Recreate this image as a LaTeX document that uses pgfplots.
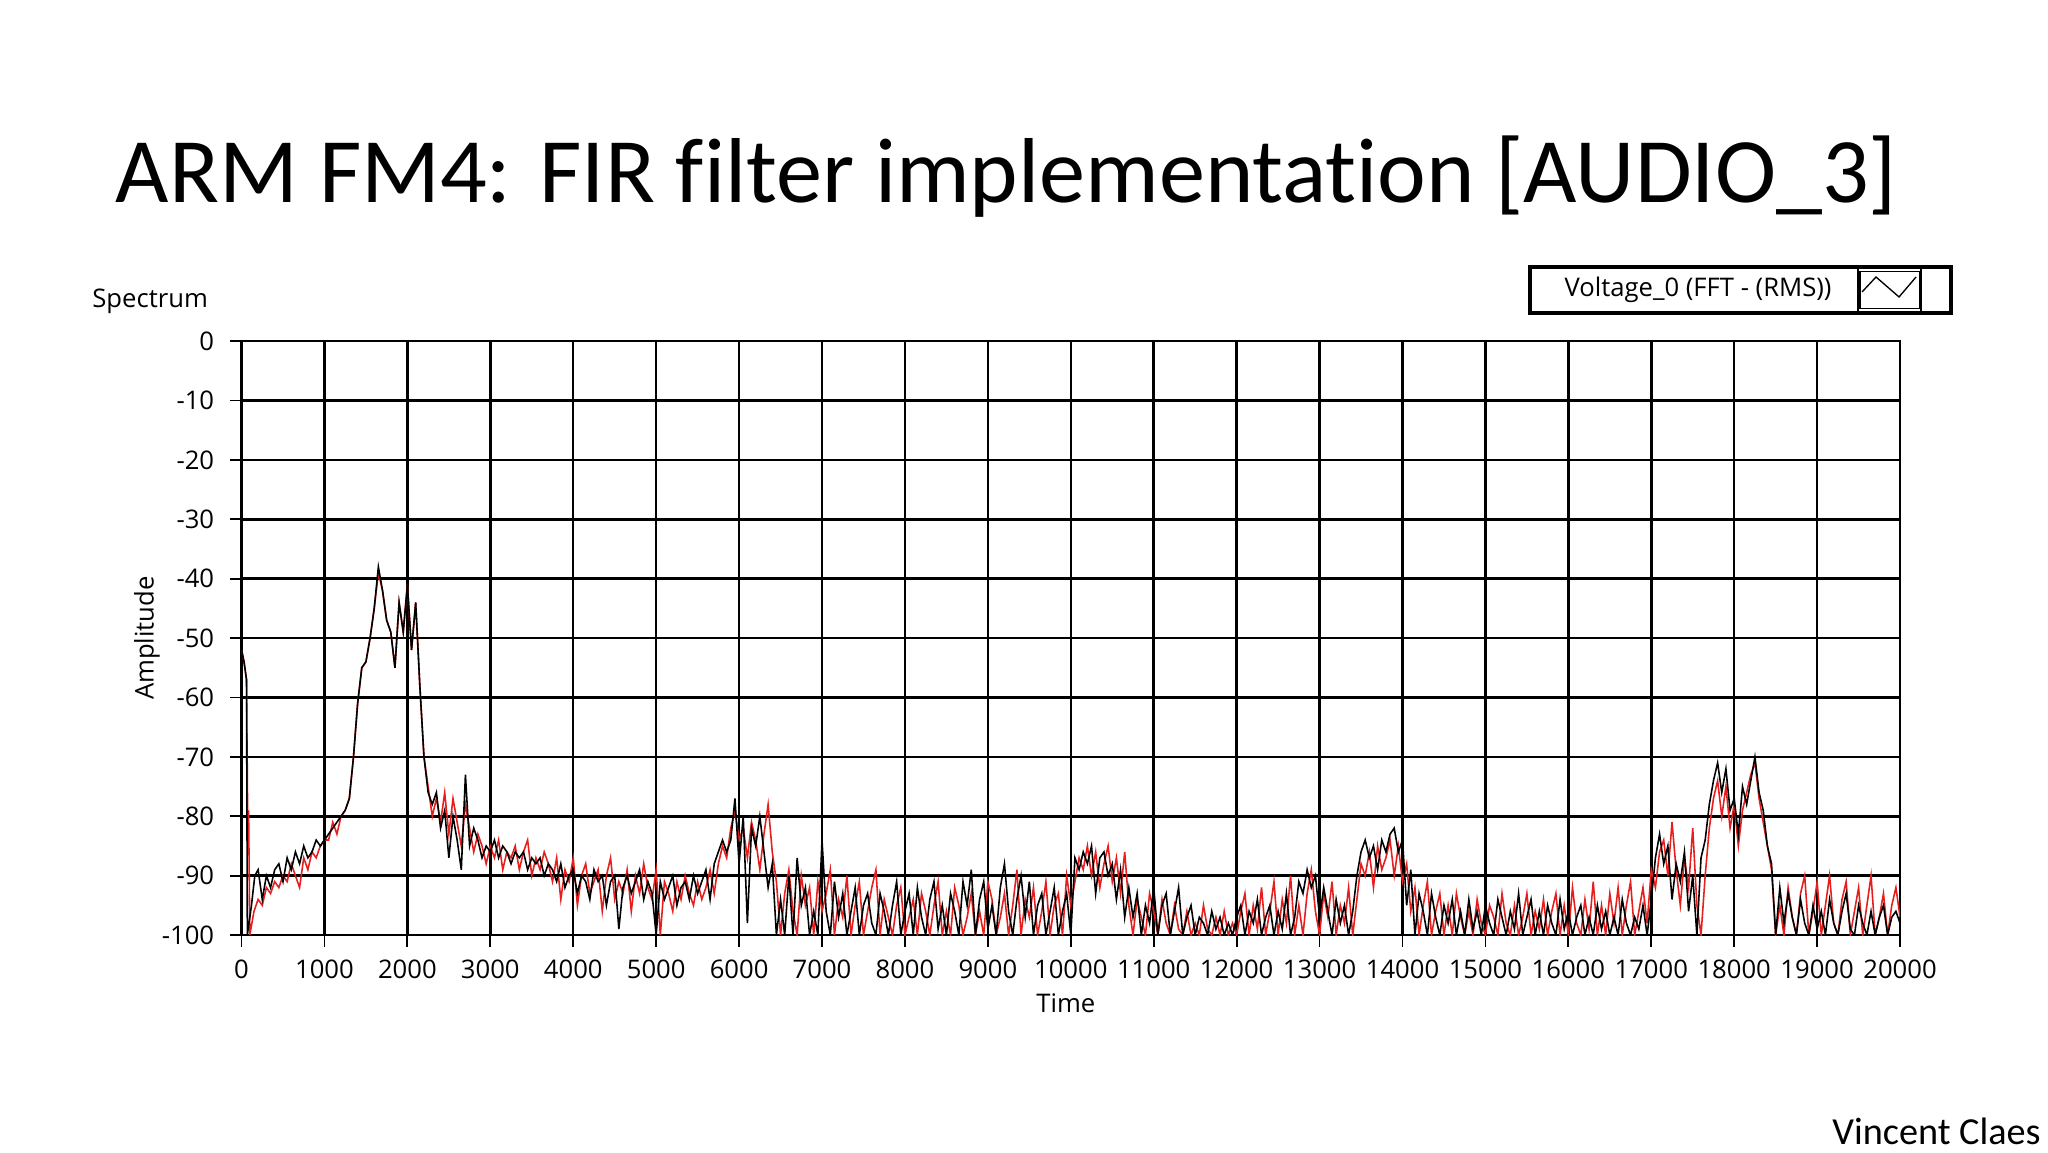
\documentclass[border=0pt]{standalone}
\usepackage{fontspec}
\usepackage{pgfplots}
\pgfplotsset{compat=1.18}
\setmainfont{Carlito}[Ligatures=NoCommon]
\newfontfamily\ui{Open Sans}
\definecolor{lvred}{RGB}{230,30,30}

\begin{document}
\begin{tikzpicture}
\fill[white] (0,0) rectangle (16,9);
% slide title and footer
\node[anchor=base west, inner sep=0] at (0.898,7.42) {\fontsize{20.5}{25}\selectfont ARM FM4: FIR filter implementation [AUDIO\_3]};
\node[anchor=base east, inner sep=0] at (15.95,0.06) {\fontsize{8.5}{10}\selectfont Vincent Claes};
\node[anchor=base west, inner sep=0] at (0.715,6.60) {\ui\fontsize{5.7}{7}\selectfont Spectrum};

% legend box
\draw[line width=0.8pt] (11.953,6.555) rectangle (15.242,6.914);
\draw[line width=0.35pt] (14.516,6.555) -- (14.516,6.914);
\draw[line width=0.35pt] (14.53,6.59) rectangle (15.0,6.88);
\draw[line width=0.35pt] (15.008,6.555) -- (15.008,6.914);
\draw[line width=0.3pt] (14.547,6.719) -- (14.656,6.836) -- (14.836,6.680) -- (14.969,6.836);
\node[anchor=center, inner sep=0] at (13.266,6.734) {\ui\fontsize{5.7}{7}\selectfont Voltage\_0 (FFT - (RMS))};

\begin{axis}[
  at={(1.887cm,1.695cm)}, anchor=south west,
  scale only axis, width=12.957cm, height=4.64cm,
  xmin=0, xmax=20000, ymin=-100, ymax=0,
  scaled x ticks=false, scaled y ticks=false,
  xtick={0,1000,...,20000},
  xticklabels={0,1000,2000,3000,4000,5000,6000,7000,8000,9000,10000,11000,12000,13000,14000,15000,16000,17000,18000,19000,20000},
  ytick={-100,-90,...,0},
  yticklabels={-100,-90,-80,-70,-60,-50,-40,-30,-20,-10,0},
  xtick pos=left, ytick pos=left,
  tick align=outside, major tick length=0.09cm,
  tick style={black, line width=0.4pt},
  grid=major, major grid style={black, line width=0.55pt},
  axis line style={line width=0.55pt},
  ticklabel style={font=\ui\fontsize{5.7}{7}\selectfont},
  xticklabel style={yshift=0.02cm},
  xlabel={Time}, ylabel={Amplitude},
  label style={font=\ui\fontsize{5.7}{7}\selectfont},
  xlabel style={at={(axis description cs:0.497,-0.115)}, anchor=center},
  ylabel style={at={(axis description cs:-0.057,0.5)}, anchor=center, rotate=0},
  every axis plot/.append style={line width=0.35pt},
]
% red trace
\addplot[lvred] coordinates {
(0,-52)(30,-54)(60,-57)(75,-82)(85,-79)(100,-100)(150,-96)(200,-94)(250,-95)(300,-92)(350,-93)(400,-91)(450,-92)(500,-90)
(550,-91)(600,-88)(650,-90)(700,-92)(750,-87)(800,-89)(850,-86)(900,-87)(950,-85)(1000,-84)(1050,-84)(1100,-81)(1150,-83)
(1200,-80)(1250,-79)(1300,-77)(1350,-70)(1400,-61)(1450,-55)(1500,-54)(1550,-50)(1600,-45)(1650,-39)(1700,-42)(1750,-47)
(1800,-49)(1850,-55)(1900,-44)(1950,-49)(2000,-41)(2050,-52)(2100,-44)(2150,-58)(2200,-70)(2250,-75)(2300,-80)(2350,-77)
(2400,-81)(2450,-76)(2500,-83)(2550,-77)(2600,-81)(2650,-85)(2700,-78)(2750,-82)(2800,-86)(2850,-83)(2900,-85)(2950,-88)
(3000,-85)(3050,-87)(3100,-84)(3150,-89)(3200,-86)(3250,-87)(3300,-85)(3350,-89)(3400,-86)(3450,-84)(3500,-90)(3550,-87)
(3600,-89)(3650,-86)(3700,-88)(3750,-91)(3800,-87)(3850,-94)(3900,-89)(3950,-91)(4000,-87)(4050,-95)(4100,-90)(4150,-88)
(4200,-93)(4250,-91)(4300,-89)(4350,-96)(4400,-90)(4450,-87)(4500,-94)(4550,-91)(4600,-93)(4650,-89)(4700,-96)(4750,-90)
(4800,-93)(4850,-88)(4900,-92)(4950,-94)(5000,-89)(5050,-100)(5100,-91)(5150,-93)(5200,-96)(5250,-91)(5300,-94)(5350,-90)
(5400,-93)(5450,-95)(5500,-91)(5550,-94)(5600,-92)(5650,-89)(5700,-93)(5750,-88)(5800,-85)(5850,-87)(5900,-82)(5950,-79)
(6000,-84)(6050,-82)(6100,-87)(6150,-81)(6200,-84)(6250,-89)(6300,-83)(6350,-78)(6400,-86)(6450,-91)(6500,-100)(6550,-93)
(6600,-89)(6650,-96)(6700,-100)(6750,-90)(6800,-95)(6850,-92)(6900,-100)(6950,-91)(7000,-96)(7050,-93)(7100,-89)(7150,-100)
(7200,-94)(7250,-97)(7300,-90)(7350,-100)(7400,-95)(7450,-91)(7500,-100)(7550,-96)(7600,-92)(7650,-89)(7700,-100)(7750,-94)
(7800,-97)(7850,-100)(7900,-95)(7950,-92)(8000,-100)(8050,-97)(8100,-94)(8150,-100)(8200,-93)(8250,-96)(8300,-100)(8350,-95)
(8400,-91)(8450,-100)(8500,-96)(8550,-100)(8600,-92)(8650,-95)(8700,-100)(8750,-97)(8800,-93)(8850,-100)(8900,-96)(8950,-100)
(9000,-91)(9050,-94)(9100,-100)(9150,-97)(9200,-93)(9250,-100)(9300,-95)(9350,-89)(9400,-100)(9450,-94)(9500,-97)(9550,-92)
(9600,-100)(9650,-96)(9700,-91)(9750,-100)(9800,-95)(9850,-93)(9900,-100)(9950,-90)(10000,-95)(10050,-91)(10100,-87)(10150,-89)
(10200,-85)(10250,-90)(10300,-86)(10350,-92)(10400,-88)(10450,-85)(10500,-91)(10550,-87)(10600,-93)(10650,-86)(10700,-95)
(10750,-100)(10800,-94)(10850,-97)(10900,-100)(10950,-93)(11000,-96)(11050,-100)(11100,-94)(11150,-98)(11200,-100)(11250,-95)
(11300,-99)(11350,-100)(11400,-96)(11450,-100)(11500,-98)(11550,-100)(11600,-95)(11650,-99)(11700,-100)(11750,-97)(11800,-100)
(11850,-96)(11900,-100)(11950,-98)(12000,-100)(12050,-96)(12100,-93)(12150,-100)(12200,-95)(12250,-99)(12300,-92)(12350,-100)
(12400,-96)(12450,-91)(12500,-100)(12550,-94)(12600,-98)(12650,-90)(12700,-100)(12750,-95)(12800,-100)(12850,-93)(12900,-89)
(12950,-96)(13000,-100)(13050,-93)(13100,-97)(13150,-91)(13200,-100)(13250,-95)(13300,-98)(13350,-92)(13400,-100)(13450,-94)
(13500,-88)(13550,-90)(13600,-86)(13650,-92)(13700,-85)(13750,-89)(13800,-87)(13850,-84)(13900,-90)(13950,-85)(14000,-91)
(14050,-88)(14100,-96)(14150,-92)(14200,-100)(14250,-95)(14300,-91)(14350,-100)(14400,-96)(14450,-93)(14500,-100)(14550,-95)
(14600,-100)(14650,-93)(14700,-97)(14750,-100)(14800,-96)(14850,-100)(14900,-94)(14950,-98)(15000,-100)(15050,-95)(15100,-97)
(15150,-100)(15200,-93)(15250,-98)(15300,-100)(15350,-95)(15400,-100)(15450,-97)(15500,-93)(15550,-100)(15600,-96)(15650,-99)
(15700,-94)(15750,-100)(15800,-96)(15850,-93)(15900,-100)(15950,-95)(16000,-100)(16050,-92)(16100,-98)(16150,-100)(16200,-94)
(16250,-99)(16300,-91)(16350,-100)(16400,-95)(16450,-100)(16500,-93)(16550,-98)(16600,-92)(16650,-100)(16700,-95)(16750,-91)
(16800,-100)(16850,-96)(16900,-92)(16950,-98)(17000,-89)(17050,-92)(17100,-86)(17150,-84)(17200,-90)(17250,-81)(17300,-89)
(17350,-95)(17400,-87)(17450,-92)(17500,-82)(17550,-95)(17600,-100)(17650,-90)(17700,-82)(17750,-77)(17800,-74)(17850,-80)
(17900,-75)(17950,-82)(18000,-78)(18050,-85)(18100,-79)(18150,-76)(18200,-73)(18250,-71)(18300,-77)(18350,-81)(18400,-85)
(18450,-89)(18500,-100)(18550,-95)(18600,-100)(18650,-92)(18700,-97)(18750,-100)(18800,-93)(18850,-90)(18900,-100)(18950,-96)
(19000,-91)(19050,-100)(19100,-95)(19150,-90)(19200,-98)(19250,-100)(19300,-94)(19350,-91)(19400,-100)(19450,-96)(19500,-92)
(19550,-100)(19600,-95)(19650,-90)(19700,-100)(19750,-97)(19800,-93)(19850,-100)(19900,-95)(19950,-92)(20000,-97)
};
% black trace
\addplot[black] coordinates {
(0,-52)(30,-54)(60,-57)(70,-100)(120,-95)(160,-90)(200,-89)(250,-94)(300,-90)(350,-92)(400,-89)(450,-88)(500,-91)(550,-87)
(600,-89)(650,-86)(700,-88)(750,-85)(800,-87)(850,-86)(900,-84)(950,-85)(1000,-84)(1050,-83)(1100,-82)(1150,-81)(1200,-80)
(1250,-79)(1300,-77)(1350,-70)(1400,-61)(1450,-55)(1500,-54)(1550,-50)(1600,-45)(1650,-38)(1700,-42)(1750,-47)(1800,-49)
(1850,-55)(1900,-44)(1950,-49)(2000,-41)(2050,-52)(2100,-44)(2150,-58)(2200,-70)(2250,-76)(2300,-78)(2350,-76)(2400,-82)
(2450,-79)(2500,-87)(2550,-80)(2600,-84)(2650,-89)(2700,-73)(2750,-85)(2800,-82)(2850,-84)(2900,-87)(2950,-85)(3000,-86)
(3050,-84)(3100,-87)(3150,-85)(3200,-86)(3250,-88)(3300,-86)(3350,-87)(3400,-86)(3450,-89)(3500,-87)(3550,-88)(3600,-87)
(3650,-90)(3700,-88)(3750,-89)(3800,-91)(3850,-88)(3900,-92)(3950,-90)(4000,-89)(4050,-93)(4100,-90)(4150,-91)(4200,-94)
(4250,-89)(4300,-91)(4350,-90)(4400,-95)(4450,-91)(4500,-90)(4550,-99)(4600,-92)(4650,-90)(4700,-93)(4750,-91)(4800,-89)
(4850,-94)(4900,-91)(4950,-93)(5000,-100)(5050,-91)(5100,-94)(5150,-92)(5200,-90)(5250,-95)(5300,-92)(5350,-91)(5400,-94)
(5450,-90)(5500,-93)(5550,-91)(5600,-89)(5650,-94)(5700,-88)(5750,-86)(5800,-84)(5850,-86)(5900,-84)(5950,-77)(6000,-88)
(6050,-80)(6100,-98)(6150,-82)(6200,-85)(6250,-80)(6300,-86)(6350,-92)(6400,-88)(6450,-100)(6500,-94)(6550,-100)(6600,-90)
(6650,-100)(6700,-87)(6750,-95)(6800,-92)(6850,-100)(6900,-96)(6950,-100)(7000,-84)(7050,-96)(7100,-100)(7150,-91)(7200,-97)
(7250,-93)(7300,-100)(7350,-96)(7400,-92)(7450,-100)(7500,-95)(7550,-93)(7600,-98)(7650,-100)(7700,-93)(7750,-96)(7800,-100)
(7850,-95)(7900,-91)(7950,-100)(8000,-96)(8050,-93)(8100,-100)(8150,-92)(8200,-97)(8250,-100)(8300,-94)(8350,-91)(8400,-99)
(8450,-95)(8500,-100)(8550,-93)(8600,-96)(8650,-100)(8700,-91)(8750,-95)(8800,-89)(8850,-100)(8900,-94)(8950,-91)(9000,-99)
(9050,-95)(9100,-100)(9150,-92)(9200,-88)(9250,-96)(9300,-100)(9350,-94)(9400,-90)(9450,-97)(9500,-91)(9550,-100)(9600,-95)
(9650,-93)(9700,-100)(9750,-96)(9800,-92)(9850,-100)(9900,-96)(9950,-93)(10000,-100)(10050,-87)(10100,-89)(10150,-86)
(10200,-88)(10250,-85)(10300,-93)(10350,-87)(10400,-86)(10450,-90)(10500,-88)(10550,-94)(10600,-89)(10650,-97)(10700,-92)
(10750,-97)(10800,-93)(10850,-100)(10900,-95)(10950,-98)(11000,-92)(11050,-100)(11100,-95)(11150,-93)(11200,-100)(11250,-96)
(11300,-92)(11350,-100)(11400,-97)(11450,-95)(11500,-100)(11550,-97)(11600,-98)(11650,-100)(11700,-96)(11750,-99)(11800,-97)
(11850,-100)(11900,-98)(11950,-100)(12000,-97)(12050,-95)(12100,-100)(12150,-96)(12200,-98)(12250,-94)(12300,-100)(12350,-97)
(12400,-95)(12450,-100)(12500,-96)(12550,-99)(12600,-93)(12650,-100)(12700,-97)(12750,-91)(12800,-93)(12850,-89)(12900,-92)
(12950,-90)(13000,-97)(13050,-92)(13100,-96)(13150,-100)(13200,-94)(13250,-98)(13300,-95)(13350,-100)(13400,-96)(13450,-90)
(13500,-86)(13550,-84)(13600,-87)(13650,-85)(13700,-89)(13750,-84)(13800,-86)(13850,-83)(13900,-82)(13950,-86)(14000,-84)
(14050,-95)(14100,-89)(14150,-100)(14200,-93)(14250,-96)(14300,-100)(14350,-93)(14400,-97)(14450,-100)(14500,-95)(14550,-98)
(14600,-94)(14650,-100)(14700,-96)(14750,-100)(14800,-94)(14850,-99)(14900,-96)(14950,-100)(15000,-95)(15050,-98)(15100,-100)
(15150,-94)(15200,-97)(15250,-100)(15300,-96)(15350,-99)(15400,-93)(15450,-100)(15500,-97)(15550,-94)(15600,-100)(15650,-96)
(15700,-100)(15750,-95)(15800,-98)(15850,-100)(15900,-94)(15950,-99)(16000,-96)(16050,-100)(16100,-97)(16150,-95)(16200,-100)
(16250,-97)(16300,-100)(16350,-95)(16400,-99)(16450,-96)(16500,-100)(16550,-97)(16600,-100)(16650,-94)(16700,-98)(16750,-100)
(16800,-97)(16850,-99)(16900,-95)(16950,-100)(17000,-94)(17050,-87)(17100,-83)(17150,-88)(17200,-85)(17250,-94)(17300,-88)
(17350,-91)(17400,-86)(17450,-96)(17500,-90)(17550,-100)(17600,-87)(17650,-84)(17700,-78)(17750,-74)(17800,-71)(17850,-76)
(17900,-72)(17950,-79)(18000,-77)(18050,-83)(18100,-75)(18150,-78)(18200,-74)(18250,-70)(18300,-76)(18350,-79)(18400,-85)
(18450,-88)(18500,-100)(18550,-92)(18600,-98)(18650,-93)(18700,-97)(18750,-100)(18800,-94)(18850,-98)(18900,-100)(18950,-95)
(19000,-99)(19050,-96)(19100,-100)(19150,-94)(19200,-98)(19250,-100)(19300,-96)(19350,-93)(19400,-99)(19450,-100)(19500,-95)
(19550,-98)(19600,-100)(19650,-96)(19700,-100)(19750,-97)(19800,-95)(19850,-100)(19900,-97)(19950,-96)(20000,-98)
};
\end{axis}
\end{tikzpicture}
\end{document}
